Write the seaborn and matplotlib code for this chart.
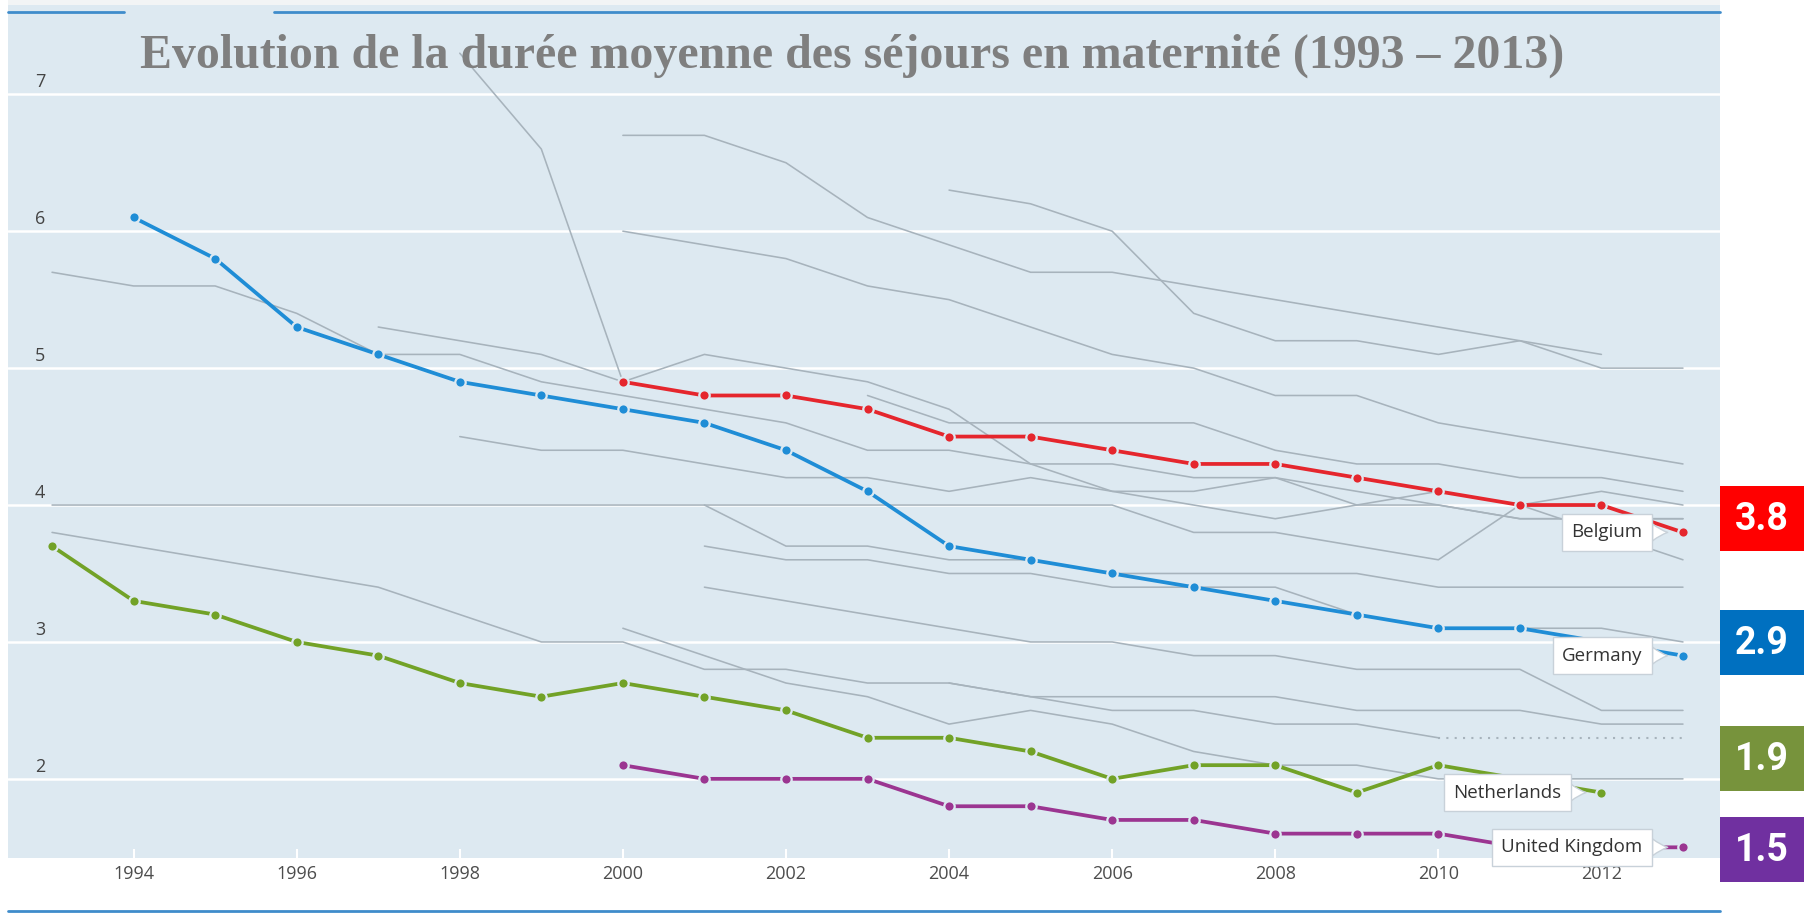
import numpy as np
import pandas as pd
import matplotlib
matplotlib.use('Agg')
import matplotlib.pyplot as plt
from matplotlib.patches import Rectangle
from matplotlib.lines import Line2D
import seaborn as sns

# Data: average length of stay in maternity (days), 1993-2013
years = list(range(1993, 2014))

belgium = [None] * 7 + [4.9, 4.8, 4.8, 4.7, 4.5, 4.5, 4.4, 4.3, 4.3, 4.2, 4.1, 4.0, 4.0, 3.8]
germany = [None, 6.1, 5.8, 5.3, 5.1, 4.9, 4.8, 4.7, 4.6, 4.4, 4.1, 3.7, 3.6, 3.5, 3.4, 3.3, 3.2, 3.1, 3.1, 3.0, 2.9]
netherlands = [3.7, 3.3, 3.2, 3.0, 2.9, 2.7, 2.6, 2.7, 2.6, 2.5, 2.3, 2.3, 2.2, 2.0, 2.1, 2.1, 1.9, 2.1, 2.0, 1.9, None]
united_kingdom = [None] * 7 + [2.1, 2.0, 2.0, 2.0, 1.8, 1.8, 1.7, 1.7, 1.6, 1.6, 1.6, 1.5, 1.5, 1.5]

# other OECD countries (grey background lines)
other_a = [5.7, 5.6, 5.6, 5.4, 5.1, 5.1, 4.9, 4.8, 4.7, 4.6, 4.4, 4.4, 4.3, 4.3, 4.2, 4.2, 4.1, 4.0, 3.9, 3.9, 3.9]
other_b = [None] * 4 + [5.3, 5.2, 5.1, 4.9, 5.1, 5.0, 4.9, 4.7, 4.3, 4.1, 4.0, 3.9, 4.0, 4.1, 4.0, 3.8, 3.6]
other_c = [None] * 5 + [7.3, 6.6, 4.9] + [None] * 13
other_d = [None] * 7 + [6.7, 6.7, 6.5, 6.1, 5.9, 5.7, 5.7, 5.6, 5.5, 5.4, 5.3, 5.2, 5.1, None]
other_e = [None] * 11 + [6.3, 6.2, 6.0, 5.4, 5.2, 5.2, 5.1, 5.2, 5.0, 5.0]
other_f = [None] * 7 + [6.0, 5.9, 5.8, 5.6, 5.5, 5.3, 5.1, 5.0, 4.8, 4.8, 4.6, 4.5, 4.4, 4.3]
other_g = [None] * 10 + [4.8, 4.6, 4.6, 4.6, 4.6, 4.4, 4.3, 4.3, 4.2, 4.2, 4.1]
other_h = [None] * 5 + [4.5, 4.4, 4.4, 4.3, 4.2, 4.2, 4.1, 4.2, 4.1, 4.1, 4.2, 4.0, 4.0, 3.9, 3.9, 3.9]
other_i = [4.0] * 14 + [3.8, 3.8, 3.7, 3.6, 4.0, 4.1, 4.0]
other_j = [None] * 8 + [4.0, 3.7, 3.7, 3.6, 3.6, 3.5, 3.5, 3.5, 3.5, 3.4, 3.4, 3.4, 3.4]
other_k = [None] * 8 + [3.7, 3.6, 3.6, 3.5, 3.5, 3.4, 3.4, 3.4, 3.2, 3.1, 3.1, 3.1, 3.0]
other_l = [None] * 8 + [3.4, 3.3, 3.2, 3.1, 3.0, 3.0, 2.9, 2.9, 2.8, 2.8, 2.8, 2.5, 2.5]
other_m = [None] * 7 + [3.1, 2.9, 2.7, 2.6, 2.4, 2.5, 2.4, 2.2, 2.1, 2.1, 2.0, 2.0, 2.0, 2.0]
other_n = [3.8, 3.7, 3.6, 3.5, 3.4, 3.2, 3.0, 3.0, 2.8, 2.8, 2.7, 2.7, 2.6, 2.6, 2.6, 2.6, 2.5, 2.5, 2.5, 2.4, 2.4]
other_o = [None] * 11 + [2.7, 2.6, 2.5, 2.5, 2.4, 2.4, 2.3, None, None, None]
other_o_missing = [None] * 17 + [2.3, 2.3, 2.3, 2.3]   # dotted: no data

y_ticks = [2, 3, 4, 5, 6, 7]
x_ticks = list(range(1994, 2013, 2))

highlight_names = ['Belgium', 'Germany', 'Netherlands', 'United Kingdom']
highlight_values = [belgium, germany, netherlands, united_kingdom]
highlight_colors = ['#e5262d', '#1f8dd6', '#72a227', '#9b3591']

box_values = ['3.8', '2.9', '1.9', '1.5']
box_colors = ['#ff0000', '#0070c0', '#77933c', '#7030a0']

title = 'Evolution de la durée moyenne des séjours en maternité (1993 – 2013)'

# ---- styling
bg = '#dde9f1'
grey = '#a7b3bc'
sns.set_style('white', {'axes.facecolor': bg})
plt.rcParams['font.family'] = ['Open Sans', 'DejaVu Sans']

W, H = 1804, 913
fig = plt.figure(figsize=(W / 100, H / 100), dpi=100)
ax = fig.add_axes([8 / W, (H - 858) / H, (1720 - 8) / W, (858 - 5) / H])

others = pd.DataFrame({
    'annee': years,
    'a': other_a, 'b': other_b, 'c': other_c, 'd': other_d, 'e': other_e,
    'f': other_f, 'g': other_g, 'h': other_h, 'i': other_i, 'j': other_j,
    'k': other_k, 'l': other_l, 'm': other_m, 'n': other_n, 'o': other_o,
})
others = others.melt(id_vars='annee', var_name='pays', value_name='duree').dropna()
sns.lineplot(data=others, x='annee', y='duree', units='pays', estimator=None,
             color=grey, lw=1.15, legend=False, ax=ax, zorder=2)

missing = pd.DataFrame({'annee': years, 'duree': other_o_missing}).dropna()
sns.lineplot(data=missing, x='annee', y='duree', color=grey, lw=1.5,
             linestyle=(0, (1, 3)), ax=ax, zorder=2)

for name, vals, col in zip(highlight_names, highlight_values, highlight_colors):
    d = pd.DataFrame({'annee': years, 'duree': vals}).dropna()
    sns.lineplot(data=d, x='annee', y='duree', color=col, lw=2.7, marker='o',
                 markersize=7.5, markeredgecolor=bg, markeredgewidth=1.6,
                 ax=ax, zorder=4)
    last = d.iloc[-1]
    ax.annotate(name, xy=(last['annee'], last['duree']), xytext=(-29, 0),
                textcoords='offset points', ha='right', va='center',
                fontsize=13.5, color='#333333', zorder=6,
                bbox=dict(boxstyle='square,pad=0.5', fc='white', ec='#c8d1d9', lw=1),
                arrowprops=dict(arrowstyle='wedge,tail_width=0.9,shrink_factor=0.4',
                                fc='white', ec='#c8d1d9', lw=1, shrinkA=0, shrinkB=11))

ax.set_xlim(1992.46, 2013.454)
ax.set_ylim(1.422, 7.652)
ax.set_xlabel('')
ax.set_ylabel('')

ax.set_yticks(y_ticks)
ax.yaxis.grid(True, color='white', lw=1.8)
ax.xaxis.grid(False)
ax.set_axisbelow(True)
ax.tick_params(axis='y', length=0, labelleft=False)
for v in y_ticks:
    ax.annotate(str(v), xy=(0, v), xycoords=('axes fraction', 'data'),
                xytext=(19.5, 5), textcoords='offset points', ha='left',
                va='baseline', fontsize=13, color='#444444')

ax.set_xticks(x_ticks)
ax.set_xticklabels([str(x) for x in x_ticks])
ax.tick_params(axis='x', direction='in', length=6.5, width=1.5, color='white',
               pad=5, labelsize=13, labelcolor='#4d4d4d', bottom=True)
for s in ax.spines.values():
    s.set_visible(False)

# title
fig.text(852 / W, 1 - 56 / H, title, ha='center', va='center', fontsize=34.5,
         fontweight='bold', color='#7f7f7f', family=['Liberation Serif', 'DejaVu Serif'])

# frame decorations (top strip, tab, blue rules)
fig.add_artist(Rectangle((8 / W, 1 - 5 / H), (1720 - 8) / W, 5 / H,
                         transform=fig.transFigure, fc='#f2f4f5', ec='none'))
fig.add_artist(Rectangle((124 / W, 1 - 14 / H), 150 / W, 9 / H,
                         transform=fig.transFigure, fc=bg, ec='none'))
rule = '#3f8ccb'
fig.add_artist(Line2D([8 / W, 124 / W], [1 - 12 / H] * 2, transform=fig.transFigure, color=rule, lw=2))
fig.add_artist(Line2D([274 / W, 1720 / W], [1 - 12 / H] * 2, transform=fig.transFigure, color=rule, lw=2))
fig.add_artist(Line2D([8 / W, 1720 / W], [1 - 911 / H] * 2, transform=fig.transFigure, color=rule, lw=2))

# coloured value boxes on the right
box_tops = [486, 610, 726, 817]
for val, col, top in zip(box_values, box_colors, box_tops):
    fig.add_artist(Rectangle((1720 / W, 1 - (top + 65) / H), 84 / W, 65 / H,
                             transform=fig.transFigure, fc=col, ec='none'))
    fig.text(1762 / W, 1 - (top + 33) / H, val, ha='center', va='center',
             fontsize=27, fontweight='bold', color='white',
             family=['Liberation Sans Narrow', 'Roboto', 'DejaVu Sans'])

fig.savefig('out.png', dpi=100)
